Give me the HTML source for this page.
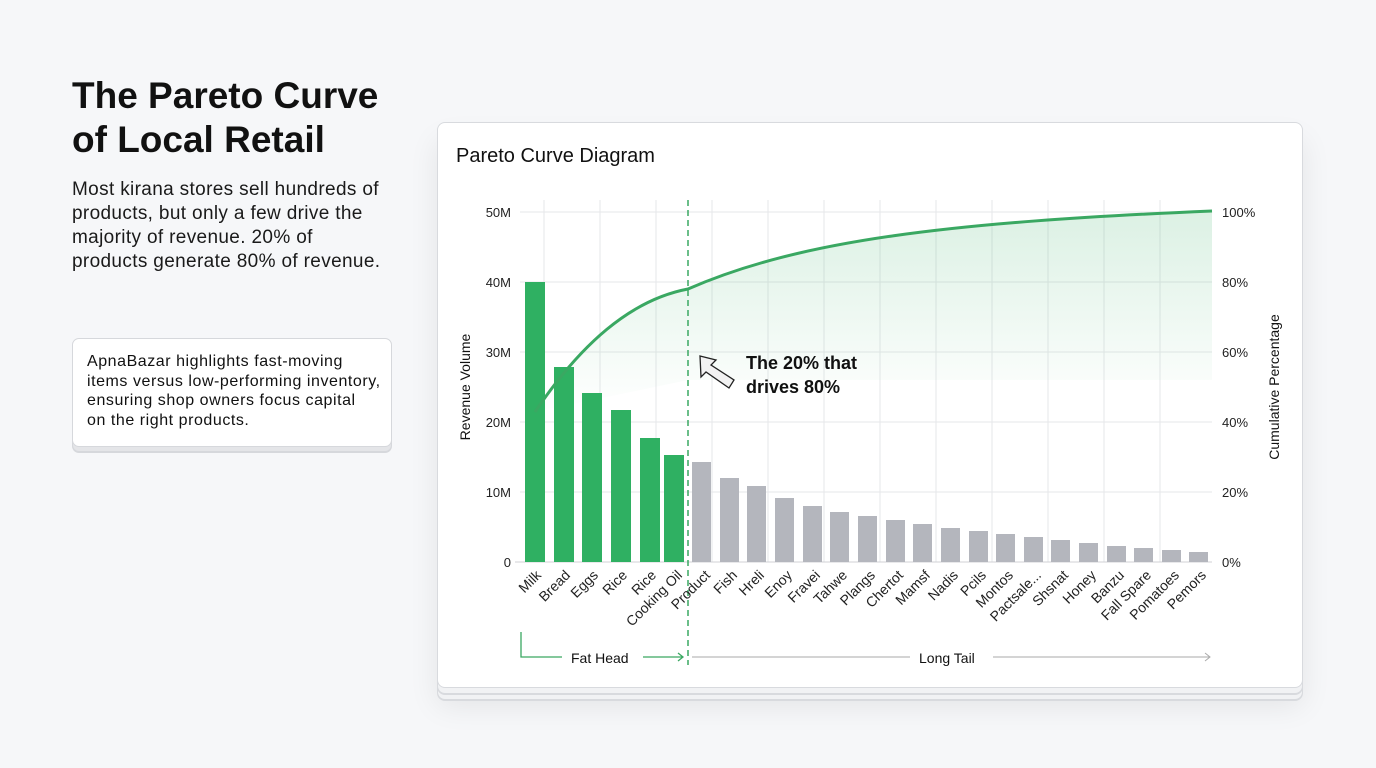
<!DOCTYPE html>
<html><head><style>
body{margin:0;width:1376px;height:768px;background:#f6f7f9;font-family:"Liberation Sans",sans-serif;position:relative;overflow:hidden}
h1{position:absolute;left:72px;top:74px;margin:0;font-size:37px;line-height:44px;font-weight:700;color:#111}
.p{position:absolute;left:72px;top:178px;font-size:19px;letter-spacing:0.35px;line-height:24px;color:#1a1a1a;width:340px;white-space:nowrap}
.note{position:absolute;left:72px;top:338px;width:290px;height:94px;background:#fff;border:1px solid #d6d8dc;border-radius:7px;padding:13px 14px 0 14px;font-size:16px;letter-spacing:0.55px;line-height:19.5px;color:#111;white-space:nowrap;box-shadow:0 5px 0 -1px #e4e5e8,0 6px 0 0 #d6d8dc}
.card{position:absolute;left:437px;top:122px;width:864px;height:564px;background:#fff;border:1px solid #d8dade;border-radius:8px;box-shadow:0 6px 0 -1px #f1f2f4,0 7px 0 0 #d8dade,0 12px 0 -1px #f1f2f4,0 13px 0 0 #d8dade,0 18px 30px rgba(0,0,0,.08)}
</style></head><body>
<h1>The Pareto Curve<br>of Local Retail</h1>
<div class="p">Most kirana stores sell hundreds of<br>products, but only a few drive the<br>majority of revenue. 20% of<br>products generate 80% of revenue.</div>
<div class="note">ApnaBazar highlights fast-moving<br>items versus low-performing inventory,<br>ensuring shop owners focus capital<br>on the right products.</div>
<div class="card"></div>
<svg width="1376" height="768" style="position:absolute;left:0;top:0" font-family="Liberation Sans, sans-serif">
<defs><linearGradient id="g" x1="0" y1="0" x2="0" y2="1"><stop offset="0" stop-color="#3bb068" stop-opacity=".18"/><stop offset="1" stop-color="#3bb068" stop-opacity="0"/></linearGradient></defs>
<text x="456" y="162" font-size="20" fill="#111">Pareto Curve Diagram</text>
<g stroke="#e6e7ea" stroke-width="1">
<line x1="520" y1="212" x2="1212" y2="212"/><line x1="520" y1="282" x2="1212" y2="282"/><line x1="520" y1="352" x2="1212" y2="352"/><line x1="520" y1="422" x2="1212" y2="422"/><line x1="520" y1="492" x2="1212" y2="492"/>
<line x1="544" y1="200" x2="544" y2="562"/><line x1="600" y1="200" x2="600" y2="562"/><line x1="656" y1="200" x2="656" y2="562"/><line x1="712" y1="200" x2="712" y2="562"/><line x1="768" y1="200" x2="768" y2="562"/><line x1="824" y1="200" x2="824" y2="562"/><line x1="880" y1="200" x2="880" y2="562"/><line x1="936" y1="200" x2="936" y2="562"/><line x1="992" y1="200" x2="992" y2="562"/><line x1="1048" y1="200" x2="1048" y2="562"/><line x1="1104" y1="200" x2="1104" y2="562"/><line x1="1160" y1="200" x2="1160" y2="562"/>
</g>
<line x1="515" y1="562" x2="1212" y2="562" stroke="#d0d2d6"/>
<g font-size="13" fill="#222" text-anchor="end">
<text x="511" y="217">50M</text><text x="511" y="287">40M</text><text x="511" y="357">30M</text><text x="511" y="427">20M</text><text x="511" y="497">10M</text><text x="511" y="567">0</text></g>
<g font-size="13" fill="#222">
<text x="1222" y="217">100%</text><text x="1222" y="287">80%</text><text x="1222" y="357">60%</text><text x="1222" y="427">40%</text><text x="1222" y="497">20%</text><text x="1222" y="567">0%</text></g>
<text transform="translate(470,387) rotate(-90)" font-size="14" fill="#111" text-anchor="middle">Revenue Volume</text>
<text transform="translate(1279,387) rotate(-90)" font-size="14" fill="#111" text-anchor="middle">Cumulative Percentage</text>
<path d="M535 412 C580 345 630 300 688 289 C800 240 950 222 1212 211 L1212 380 L688 380 Z" fill="url(#g)"/>
<g fill="#2fb062">
<rect x="525" y="282" width="20" height="280"/><rect x="554" y="367" width="20" height="195"/><rect x="582" y="393" width="20" height="169"/><rect x="611" y="410" width="20" height="152"/><rect x="640" y="438" width="20" height="124"/><rect x="664" y="455" width="20" height="107"/></g>
<g fill="#b4b6bd">
<rect x="692" y="462" width="19" height="100"/><rect x="720" y="478" width="19" height="84"/><rect x="747" y="486" width="19" height="76"/><rect x="775" y="498" width="19" height="64"/><rect x="803" y="506" width="19" height="56"/><rect x="830" y="512" width="19" height="50"/><rect x="858" y="516" width="19" height="46"/><rect x="886" y="520" width="19" height="42"/><rect x="913" y="524" width="19" height="38"/><rect x="941" y="528" width="19" height="34"/><rect x="969" y="531" width="19" height="31"/><rect x="996" y="534" width="19" height="28"/><rect x="1024" y="537" width="19" height="25"/><rect x="1051" y="540" width="19" height="22"/><rect x="1079" y="543" width="19" height="19"/><rect x="1107" y="546" width="19" height="16"/><rect x="1134" y="548" width="19" height="14"/><rect x="1162" y="550" width="19" height="12"/><rect x="1189" y="552" width="19" height="10"/></g>
<path d="M535 412 C580 345 630 300 688 289 C800 240 950 222 1212 211" fill="none" stroke="#3aa862" stroke-width="3"/>
<line x1="688" y1="200" x2="688" y2="665" stroke="#3aa862" stroke-width="1.5" stroke-dasharray="6,4"/>
<path d="M700 356 L716 360 L711 365 L734 380 L729 388 L706 372 L701 377 Z" fill="#f2f2f2" stroke="#222" stroke-width="1.3"/>
<text x="746" y="369" font-size="18" font-weight="700" fill="#111">The 20% that</text>
<text x="746" y="393" font-size="18" font-weight="700" fill="#111">drives 80%</text>
<g font-size="14" fill="#222" text-anchor="end">
<text transform="translate(542,576) rotate(-45)">Milk</text><text transform="translate(571,576) rotate(-45)">Bread</text><text transform="translate(599,576) rotate(-45)">Eggs</text><text transform="translate(628,576) rotate(-45)">Rice</text><text transform="translate(657,576) rotate(-45)">Rice</text><text transform="translate(683,576) rotate(-45)">Cooking Oil</text><text transform="translate(711,576) rotate(-45)">Product</text><text transform="translate(738,576) rotate(-45)">Fish</text><text transform="translate(765,576) rotate(-45)">Hreli</text><text transform="translate(793,576) rotate(-45)">Enoy</text><text transform="translate(821,576) rotate(-45)">Fravei</text><text transform="translate(848,576) rotate(-45)">Tahwe</text><text transform="translate(876,576) rotate(-45)">Plangs</text><text transform="translate(904,576) rotate(-45)">Chertot</text><text transform="translate(931,576) rotate(-45)">Mamsf</text><text transform="translate(959,576) rotate(-45)">Nadis</text><text transform="translate(987,576) rotate(-45)">Pcils</text><text transform="translate(1014,576) rotate(-45)">Montos</text><text transform="translate(1042,576) rotate(-45)">Pactsale...</text><text transform="translate(1069,576) rotate(-45)">Shsnat</text><text transform="translate(1097,576) rotate(-45)">Honey</text><text transform="translate(1125,576) rotate(-45)">Banzu</text><text transform="translate(1152,576) rotate(-45)">Fall Spare</text><text transform="translate(1180,576) rotate(-45)">Pomatoes</text><text transform="translate(1207,576) rotate(-45)">Pemors</text></g>
<path d="M521 632 V657 H562" fill="none" stroke="#3aa862" stroke-width="1.3"/>
<text x="571" y="663" font-size="14" fill="#111">Fat Head</text>
<path d="M643 657 H683 M678 653 L683 657 L678 661" fill="none" stroke="#3aa862" stroke-width="1.3"/>
<line x1="692" y1="657" x2="910" y2="657" stroke="#aaa"/>
<text x="919" y="663" font-size="14" fill="#111">Long Tail</text>
<path d="M993 657 H1210 M1205 653 L1210 657 L1205 661" fill="none" stroke="#aaa"/>
</svg>
</body></html>
